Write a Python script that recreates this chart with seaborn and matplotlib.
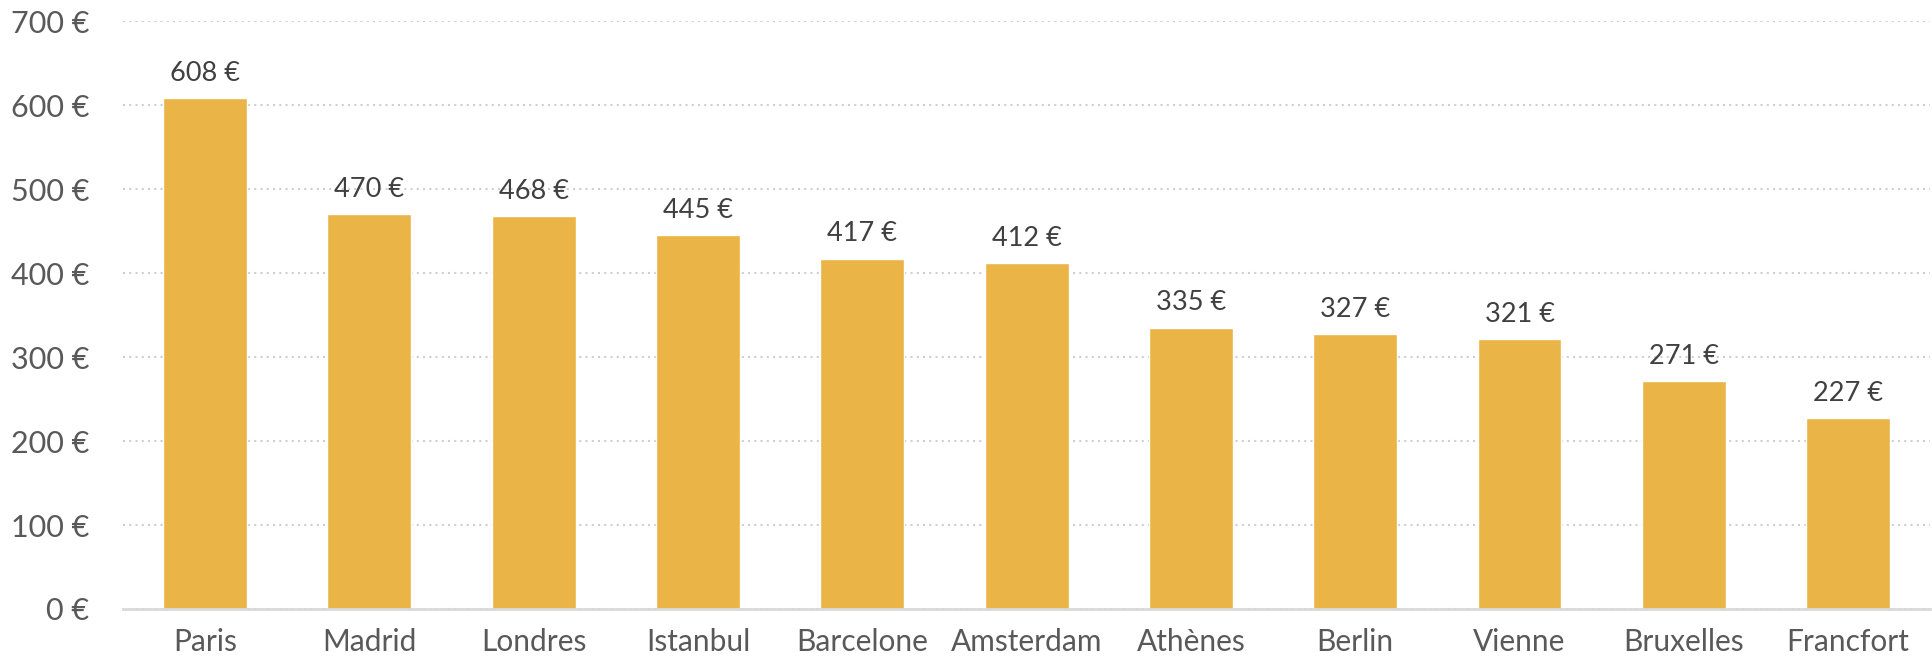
import matplotlib
matplotlib.use("Agg")
import matplotlib.pyplot as plt
import seaborn as sns
import pandas as pd

cities = ["Paris", "Madrid", "Londres", "Istanbul", "Barcelone", "Amsterdam",
          "Athènes", "Berlin", "Vienne", "Bruxelles", "Francfort"]
prices = [608, 470, 468, 445, 417, 412, 335, 327, 321, 271, 227]
yticks = [0, 100, 200, 300, 400, 500, 600, 700]

sns.set_theme(style="white")
plt.rcParams['font.family'] = ['Lato', 'DejaVu Sans']

df = pd.DataFrame({"city": cities, "price": prices})

fig = plt.figure(figsize=(19.33, 6.63), dpi=100)
ax = fig.add_axes([0.0636, 0.0815, 0.935, 0.8865])

sns.barplot(data=df, x="city", y="price", color="#EBB447", saturation=1,
            width=0.51, ax=ax, zorder=3)

ax.set_ylim(0, 700)
ax.set_xlim(-0.5, len(cities) - 0.5)
ax.set_yticks(yticks)
ax.set_yticklabels([f"{v} €" for v in yticks])
ax.set_xlabel("")
ax.set_ylabel("")

for s in ["top", "right", "left"]:
    ax.spines[s].set_visible(False)
ax.spines["bottom"].set_color("#d9d9d9")
ax.spines["bottom"].set_linewidth(2)
ax.spines["bottom"].set_zorder(4)

ax.yaxis.grid(True, color="#cfcfcf", linestyle=(0, (1, 2)), linewidth=1.5, zorder=0)
ax.set_axisbelow(True)

ax.tick_params(axis="y", labelsize=22, colors="#595959", length=0, pad=24)
ax.tick_params(axis="x", labelsize=21.5, colors="#595959", length=0, pad=14)

ax.bar_label(ax.containers[0], labels=[f"{v} €" for v in prices],
             padding=9, fontsize=19.5, color="#404040")

fig.savefig("out.png", dpi=100)
